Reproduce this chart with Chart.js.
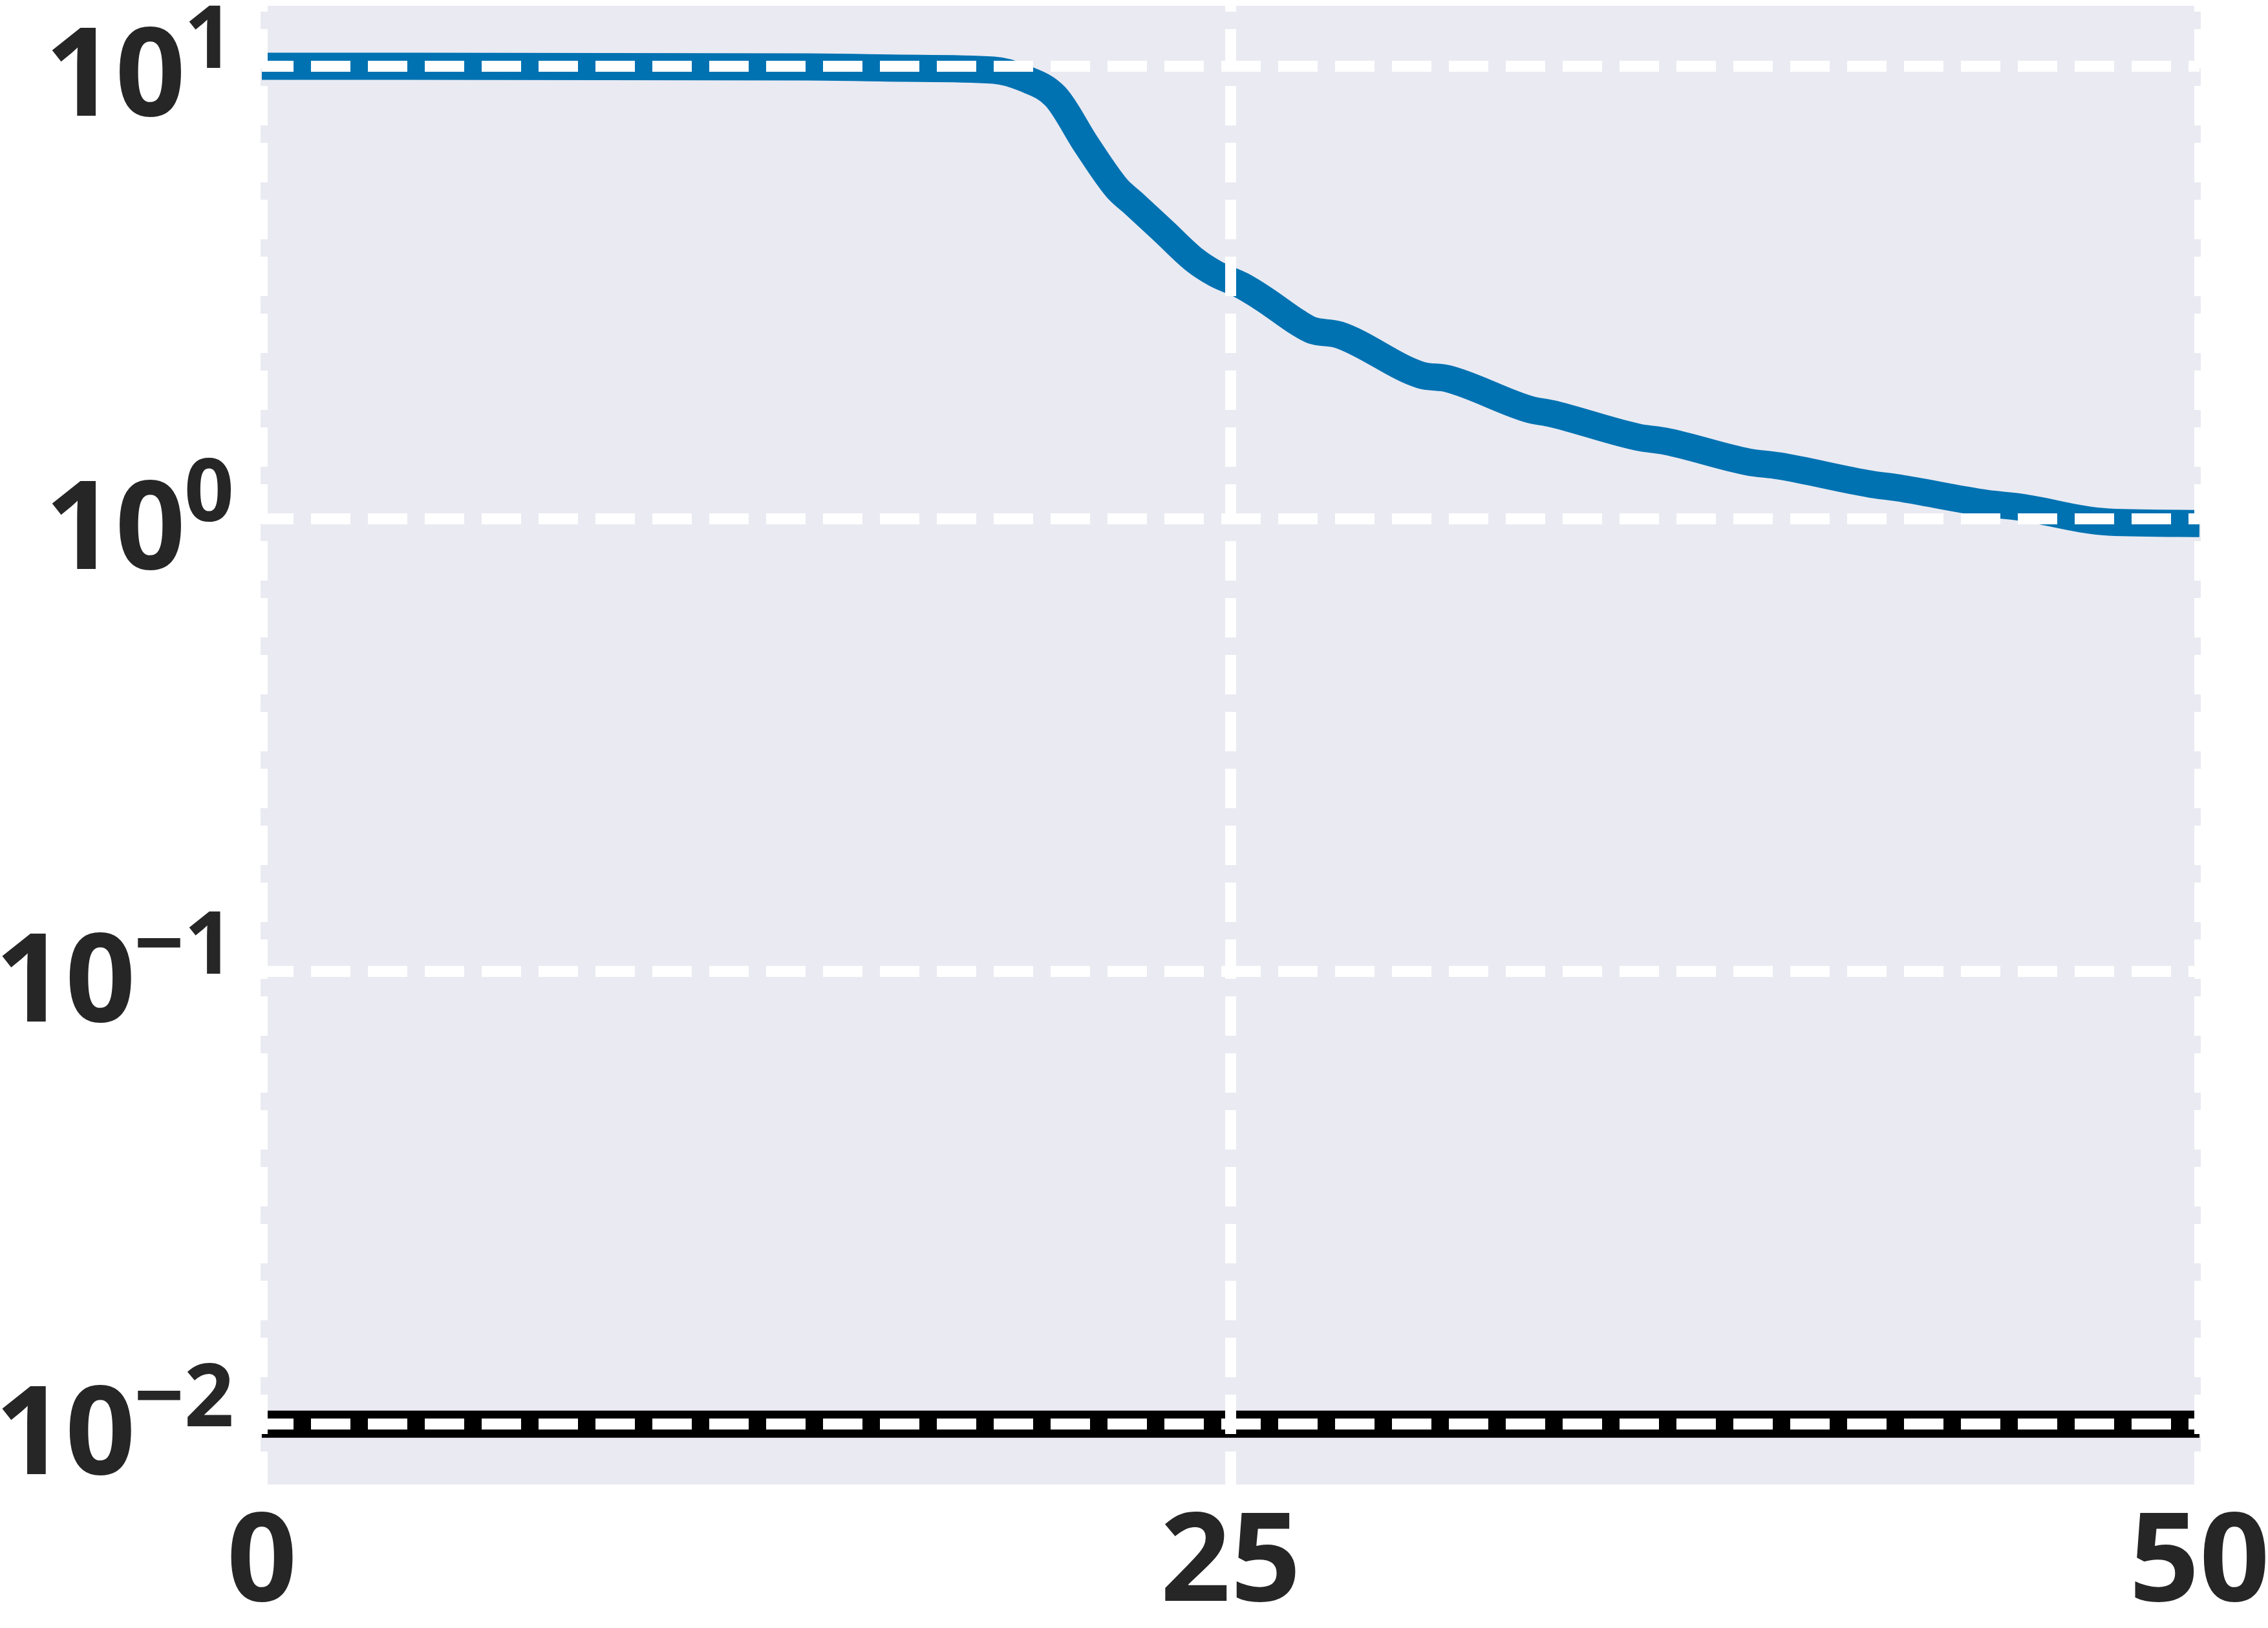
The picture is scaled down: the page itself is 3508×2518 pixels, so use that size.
<!DOCTYPE html>
<html lang="en">
<head>
    <meta charset="UTF-8">
    <title>Loss curve</title>
    <script src="https://cdn.jsdelivr.net/npm/chart.js"></script>
    <style>
        body {
            margin: 0;
            padding: 0;
            background-color: #ffffff;
        }
        #wrap {
            width: 3508px;
            height: 2518px;
        }
    </style>
</head>
<body>
<div id="wrap">
    <canvas id="grafica" width="3508" height="2518"></canvas>
</div>

<script>
    // ticks
    const xTicks = [0, 25, 50];
    const yTickExponents = [-2, -1, 0, 1];

    // blue curve
    const blueX = [0, 14.08, 16.59, 18.88, 19.68, 20.48, 21.28, 22.07, 22.47, 23.27,
        24.07, 24.61, 25.28, 25.86, 26.75, 27.10, 27.80, 29.90, 30.61, 32.73,
        33.26, 35.53, 36.23, 38.36, 39.14, 41.51, 42.22, 44.50, 45.39, 47.66, 50];
    const blueY = [10.0, 9.967, 9.902, 9.805, 9.40, 8.57, 6.70, 5.37, 5.00, 4.32,
        3.73, 3.48, 3.28, 3.06, 2.71, 2.61, 2.55, 2.08, 2.04, 1.744,
        1.710, 1.514, 1.484, 1.336, 1.310, 1.194, 1.171, 1.082, 1.061, 0.984, 0.977];

    // black reference line
    const blackX = [0, 50];
    const blackY = [0.01, 0.01];

    const toPoints = (xs, ys) => xs.map((x, i) => ({x: x, y: ys[i]}));

    // fondo gris del area de datos
    const fondo = {
        id: 'fondo',
        beforeDraw(chart) {
            const {ctx, chartArea} = chart;
            ctx.save();
            ctx.fillStyle = '#ffffff';
            ctx.fillRect(0, 0, chart.width, chart.height);
            ctx.fillStyle = '#EAEAF2';
            ctx.fillRect(chartArea.left - 2, chartArea.top, chartArea.right - chartArea.left + 4, chartArea.bottom - chartArea.top);
            ctx.restore();
        }
    };

    // etiquetas 10^k con exponente
    const etiquetasLog = {
        id: 'etiquetasLog',
        afterDraw(chart) {
            const ctx = chart.ctx;
            const y = chart.scales.y;
            const xRight = 362;
            ctx.save();
            ctx.fillStyle = '#262626';
            ctx.textAlign = 'right';
            ctx.textBaseline = 'alphabetic';
            yTickExponents.forEach(k => {
                const py = y.getPixelForValue(Math.pow(10, k));
                const exp = (k < 0 ? '\u2212' : '') + Math.abs(k);
                ctx.font = 'bold 135px "Open Sans"';
                const w = ctx.measureText(exp).width;
                ctx.fillText(exp, xRight, py + 3);
                ctx.font = 'bold 190px "Open Sans"';
                ctx.fillText('10', xRight - w + 2, py + 77);
            });
            ctx.restore();
        }
    };

    const ctx = document.getElementById('grafica').getContext('2d');
    new Chart(ctx, {
        type: 'line',
        data: {
            datasets: [{
                data: toPoints(blackX, blackY),
                borderColor: '#000000',
                borderWidth: 42,
                pointRadius: 0,
                clip: 0
            }, {
                data: toPoints(blueX, blueY),
                borderColor: '#0072B2',
                borderWidth: 42,
                pointRadius: 0,
                cubicInterpolationMode: 'monotone',
                borderJoinStyle: 'round',
                clip: 0
            }]
        },
        options: {
            responsive: false,
            animation: false,
            devicePixelRatio: 1,
            layout: {
                padding: {top: 9, right: 0, left: 0, bottom: 0}
            },
            plugins: {
                legend: {display: false},
                tooltip: {enabled: false}
            },
            scales: {
                x: {
                    type: 'linear',
                    min: 0,
                    max: 50,
                    afterBuildTicks: s => { s.ticks = xTicks.map(v => ({value: v})); },
                    afterFit: s => {
                        s.height = 222;
                        s.paddingLeft = 0;
                        s.paddingRight = 106;
                    },
                    grid: {
                        color: '#ffffff',
                        lineWidth: 17,
                        drawTicks: false,
                        z: 1
                    },
                    border: {display: false, dash: [61, 27], dashOffset: 52},
                    ticks: {
                        color: '#262626',
                        padding: 12,
                        maxRotation: 0,
                        font: {family: 'Open Sans', weight: 'bold', size: 190}
                    }
                },
                y: {
                    type: 'logarithmic',
                    min: 0.00736,
                    max: 13.6,
                    afterBuildTicks: s => { s.ticks = yTickExponents.map(k => ({value: Math.pow(10, k)})); },
                    afterFit: s => { s.width = 405; },
                    grid: {
                        color: '#ffffff',
                        lineWidth: 17,
                        drawTicks: false,
                        z: 1
                    },
                    border: {display: false, dash: [61, 27], dashOffset: 12},
                    ticks: {display: false}
                }
            }
        },
        plugins: [fondo, etiquetasLog]
    });
</script>
</body>
</html>
